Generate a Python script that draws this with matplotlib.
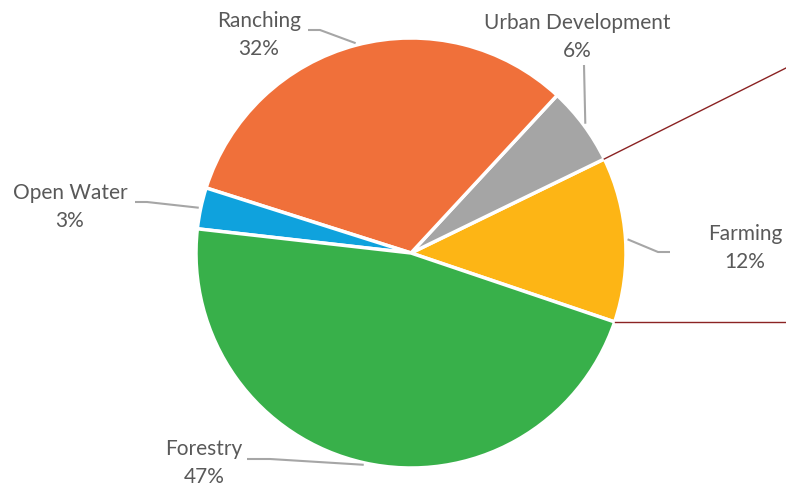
import numpy as np
import matplotlib
matplotlib.use("Agg")
import matplotlib.pyplot as plt

# land use shares, counter-clockwise from the farming slice
categories = ["Farming", "Urban Development", "Ranching", "Open Water", "Forestry"]
shares = [12.4, 5.9, 32.0, 3.1, 46.6]
colors = ["#FDB515", "#A5A5A5", "#F0703A", "#0FA2DD", "#38B04A"]

W, H = 786, 488
cx, cy, R = 411, H - 253, 215
start = -18.7

fig = plt.figure(figsize=(W / 100, H / 100), dpi=100)
ax = fig.add_axes([0, 0, 1, 1])
ax.set_xlim(0, W)
ax.set_ylim(0, H)
ax.axis("off")

wedges, _ = ax.pie(shares, colors=colors, startangle=start, counterclock=True,
                   center=(cx, cy), radius=R,
                   wedgeprops=dict(edgecolor="white", linewidth=2.5))
ax.set_xlim(0, W)
ax.set_ylim(0, H)
ax.set_aspect("equal")

def on_circle(ang, r=R):
    a = np.deg2rad(ang)
    return cx + r * np.cos(a), cy + r * np.sin(a)

# label layout (pixel positions, y from top): text centre, elbow, line end
label_pos = {
    "Farming": ((745, 248), [(658, 252), (670, 252)]),
    "Urban Development": ((577, 37), [(584, 65)]),
    "Ranching": ((259, 35), [(320, 30), (308, 30)]),
    "Open Water": ((70, 207), [(147, 202), (135, 202)]),
    "Forestry": ((204, 463), [(270, 459), (247, 459)]),
}

for w, name, val in zip(wedges, categories, shares):
    mid = (w.theta1 + w.theta2) / 2
    (tx, ty), pts = label_pos[name]
    x0, y0 = on_circle(mid, R + 2)
    xs = [x0] + [p[0] for p in pts]
    ys = [y0] + [H - p[1] for p in pts]
    ax.plot(xs, ys, color="#A6A6A6", lw=1.5, solid_capstyle="butt")
    ax.text(tx, H - ty, f"{name}\n{val:.0f}%", ha="center", va="center",
            fontsize=15, color="#595959", family="Lato", linespacing=1.5)

# connector lines from the farming slice towards the right
f = wedges[0]
x1, y1 = on_circle(f.theta2)
x2, y2 = on_circle(f.theta1)
ax.plot([x1, W], [y1, H - 68], color="#8B2323", lw=1)
ax.plot([x2, W], [y2, y2], color="#8B2323", lw=1)

fig.savefig("out.png", dpi=100)
